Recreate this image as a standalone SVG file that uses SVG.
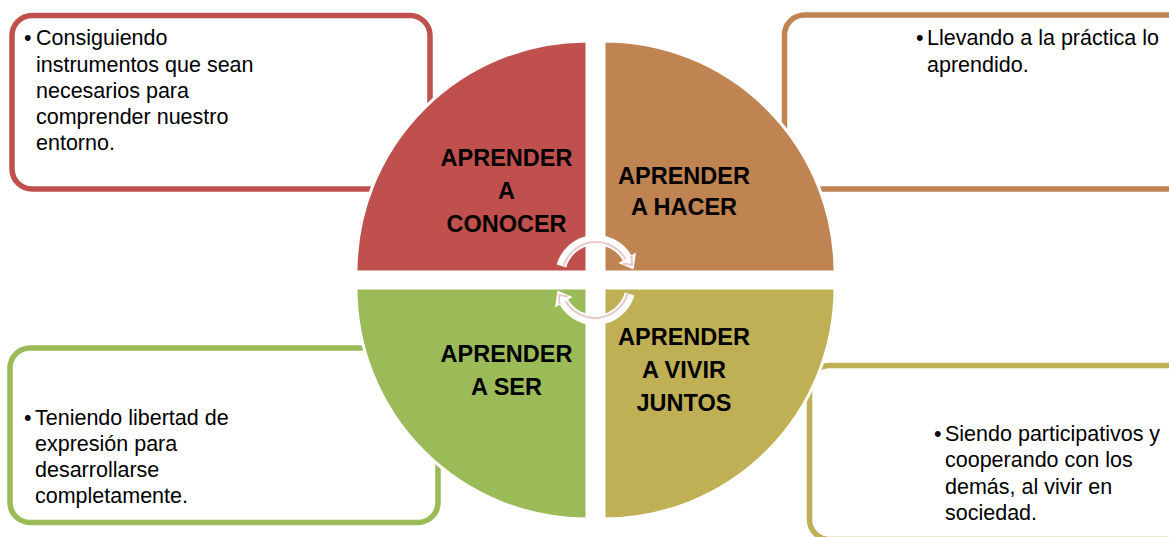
<svg xmlns="http://www.w3.org/2000/svg" width="1169" height="537" viewBox="0 0 1169 537">
  <style>
    .box { fill: #FFFFFF; stroke-width: 5.5; }
    .body { font-family: "Liberation Sans", Arial, sans-serif; font-size: 21.5px; fill: #000000; }
    .lbl { font-family: "Liberation Sans", Arial, sans-serif; font-size: 23.5px; font-weight: bold; fill: #000000; text-anchor: middle; }
    .quad { stroke: #FFFFFF; stroke-width: 3; }
    .band { fill: none; stroke: #FFFFFF; stroke-width: 10; }
    .pink { fill: none; stroke: #E8C9C9; stroke-width: 2; }
  </style>
  <rect width="1169" height="537" fill="#FFFFFF"/>

  <g id="box-conocer">
    <rect class="box" x="12" y="15.5" width="418" height="173.5" rx="20" stroke="#C0504D"/>
    <text class="body" x="24" y="45">•</text>
    <text class="body" x="36" y="45">Consiguiendo</text>
    <text class="body" x="36" y="71.5">instrumentos que sean</text>
    <text class="body" x="36" y="97.5">necesarios para</text>
    <text class="body" x="36" y="123.5">comprender nuestro</text>
    <text class="body" x="36" y="149.5">entorno.</text>
  </g>

  <g id="box-hacer">
    <rect class="box" x="784.5" y="15" width="420" height="174" rx="20" stroke="#C08352"/>
    <text class="body" x="916" y="44.5">•</text>
    <text class="body" x="927" y="44.5">Llevando a la práctica lo</text>
    <text class="body" x="927" y="71.5">aprendido.</text>
  </g>

  <g id="box-ser">
    <rect class="box" x="10" y="348" width="428" height="174.5" rx="20" stroke="#9BBB59"/>
    <text class="body" x="24" y="425">•</text>
    <text class="body" x="35" y="425">Teniendo libertad de</text>
    <text class="body" x="35" y="451">expresión para</text>
    <text class="body" x="35" y="477">desarrollarse</text>
    <text class="body" x="35" y="503">completamente.</text>
  </g>

  <g id="box-vivir">
    <rect class="box" x="809.5" y="365.5" width="400" height="174" rx="20" stroke="#BFB056"/>
    <text class="body" x="934" y="440.5">•</text>
    <text class="body" x="945" y="440.5">Siendo participativos y</text>
    <text class="body" x="945" y="467">cooperando con los</text>
    <text class="body" x="945" y="493.5">demás, al vivir en</text>
    <text class="body" x="945" y="520">sociedad.</text>
  </g>

  <g id="quad-conocer">
    <path class="quad" d="M587,272 L356,272 A231,231 0 0 1 587,41 Z" fill="#C0504D"/>
    <text class="lbl" x="506.5" y="166">APRENDER</text>
    <text class="lbl" x="506.5" y="199">A</text>
    <text class="lbl" x="506.5" y="232">CONOCER</text>
  </g>

  <g id="quad-hacer">
    <path class="quad" d="M604,272 L604,41 A231,231 0 0 1 835,272 Z" fill="#C08352"/>
    <text class="lbl" x="684" y="183.5">APRENDER</text>
    <text class="lbl" x="684" y="215">A HACER</text>
  </g>

  <g id="quad-vivir">
    <path class="quad" d="M604,288 L835,288 A231,231 0 0 1 604,519 Z" fill="#BFB056"/>
    <text class="lbl" x="684" y="345">APRENDER</text>
    <text class="lbl" x="684" y="378">A VIVIR</text>
    <text class="lbl" x="684" y="410.5">JUNTOS</text>
  </g>

  <g id="quad-ser">
    <path class="quad" d="M587,288 L587,519 A231,231 0 0 1 356,288 Z" fill="#9BBB59"/>
    <text class="lbl" x="506.5" y="362">APRENDER</text>
    <text class="lbl" x="506.5" y="394.5">A SER</text>
  </g>

  <g id="connectors">
    <path class="band" d="M561.4,266 A36,36 0 0 1 627.2,258"/>
    <polygon points="636,252.5 618.4,263 633.5,269.5" fill="#FFFFFF"/>
    <path class="pink" d="M563.3,266.6 A34,34 0 0 1 625.4,259"/>
    <polyline class="pink" points="631.5,256 632,265 623,263.5"/>

    <path class="band" d="M629.6,294 A36,36 0 0 1 563.8,302"/>
    <polygon points="555,307.5 572.6,297 557.5,290.5" fill="#FFFFFF"/>
    <path class="pink" d="M627.7,293.4 A34,34 0 0 1 565.6,301"/>
    <polyline class="pink" points="559.5,304 559,295 568,296.5"/>
  </g>
</svg>
